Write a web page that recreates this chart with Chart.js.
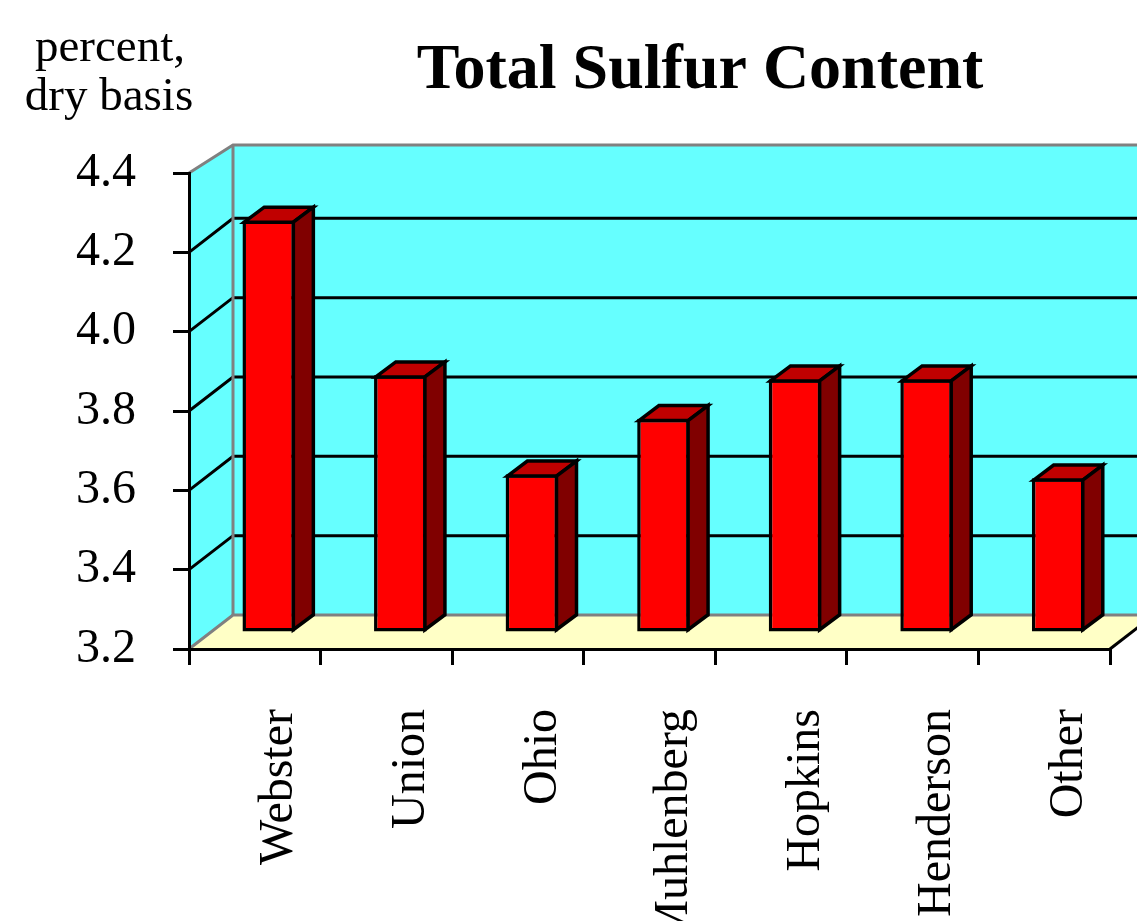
<!DOCTYPE html>
<html>
<head>
<meta charset="utf-8">
<title>Total Sulfur Content</title>
<script src="https://cdn.jsdelivr.net/npm/chart.js@4.4.1/dist/chart.umd.min.js"></script>
<style>
  html, body { margin: 0; padding: 0; background: #fff; }
  #wrap { width: 1137px; height: 921px; }
</style>
</head>
<body>
<div id="wrap"><canvas id="grafica"></canvas></div>
<script>
// datos
const condados = ['Webster', 'Union', 'Ohio', 'Muhlenberg', 'Hopkins', 'Henderson', 'Other'];
const azufre = [4.24, 3.85, 3.60, 3.74, 3.84, 3.84, 3.59];
const ejeMin = 3.2;
const ejeMax = 4.4;
const paso = 0.2;
const titulo = 'Total Sulfur Content';
const unidades = ['percent,', 'dry basis'];

const fuente = '"Liberation Serif", "Times New Roman", serif';

// profundidad de la pared del fondo, posicion de las barras y su grosor
const pared = { dx: 44, dy: -34, dyArriba: -28 };
const barras = { dx: 14, dy: -16 };
const cara = { dx: 20, dy: -15 };

function poligono(ctx, pts, relleno) {
  ctx.beginPath();
  ctx.moveTo(pts[0][0], pts[0][1]);
  for (let i = 1; i < pts.length; i++) ctx.lineTo(pts[i][0], pts[i][1]);
  ctx.closePath();
  if (relleno) {
    ctx.fillStyle = relleno;
    ctx.fill();
  }
}

function linea(ctx, pts, color) {
  ctx.beginPath();
  ctx.moveTo(pts[0][0], pts[0][1]);
  for (let i = 1; i < pts.length; i++) ctx.lineTo(pts[i][0], pts[i][1]);
  ctx.strokeStyle = color;
  ctx.lineWidth = 3;
  ctx.stroke();
}

// Paredes, piso y lineas de la cuadricula en 3D
const fondo3d = {
  id: 'fondo3d',
  beforeDraw(chart) {
    const { ctx, chartArea: a, scales: { y } } = chart;
    const W = chart.width;
    const dx = pared.dx, dy = pared.dy, dyA = pared.dyArriba;
    ctx.save();
    // pared del fondo
    poligono(ctx, [[a.left + dx, a.top + dyA], [W, a.top + dyA], [W, a.bottom + dy], [a.left + dx, a.bottom + dy]], '#66ffff');
    // pared lateral
    poligono(ctx, [[a.left, a.top], [a.left + dx, a.top + dyA], [a.left + dx, a.bottom + dy], [a.left, a.bottom]], '#66ffff');
    // piso
    poligono(ctx, [[a.left, a.bottom], [a.right, a.bottom], [a.right + dx, a.bottom + dy], [a.left + dx, a.bottom + dy]], '#ffffc6');

    ctx.lineCap = 'butt';
    y.ticks.forEach(t => {
      if (t.value <= ejeMin + 1e-6 || t.value >= ejeMax - 1e-6) return;
      const py = y.getPixelForValue(t.value);
      linea(ctx, [[a.left, py], [a.left + dx, py + dy], [W, py + dy]], '#000');
    });

    // bordes grises de las paredes
    linea(ctx, [[a.left, a.top], [a.left + dx, a.top + dyA], [W, a.top + dyA]], '#808080');
    linea(ctx, [[a.left + dx, a.top + dyA], [a.left + dx, a.bottom + dy]], '#808080');
    linea(ctx, [[a.left, a.bottom], [a.left + dx, a.bottom + dy], [W, a.bottom + dy]], '#808080');
    // borde derecho del piso
    linea(ctx, [[a.right, a.bottom], [a.right + dx, a.bottom + dy]], '#000');
    ctx.restore();
  },
  beforeDatasetsDraw(chart) {
    chart.ctx.save();
    chart.ctx.translate(barras.dx, barras.dy);
  },
  afterDatasetsDraw(chart) {
    const ctx = chart.ctx;
    const meta = chart.getDatasetMeta(0);
    ctx.lineJoin = 'miter';
    meta.data.forEach(b => {
      const p = b.getProps(['x', 'y', 'base', 'width'], true);
      const L = p.x - p.width / 2 + 1.75;
      const R = p.x + p.width / 2 - 1.75;
      const T = p.y + 1.75;
      const B = p.base - 1.75;
      const tapa = [[L, T], [L + cara.dx, T + cara.dy], [R + cara.dx, T + cara.dy], [R, T]];
      const lado = [[R, T], [R + cara.dx, T + cara.dy], [R + cara.dx, B + cara.dy], [R, B]];
      poligono(ctx, tapa, '#c00000');
      ctx.strokeStyle = '#000';
      ctx.lineWidth = 3.5;
      ctx.stroke();
      poligono(ctx, lado, '#800000');
      ctx.stroke();
    });
    ctx.restore();
  },
  afterDraw(chart) {
    const ctx = chart.ctx;
    ctx.save();
    ctx.fillStyle = '#000';
    ctx.textAlign = 'center';
    ctx.textBaseline = 'alphabetic';
    ctx.font = 'bold 64px ' + fuente;
    ctx.fillText(titulo, 700, 88);
    ctx.font = '47px ' + fuente;
    ctx.fillText(unidades[0], 110, 61);
    ctx.fillText(unidades[1], 109, 110);
    ctx.restore();
  }
};

const ctx = document.getElementById('grafica').getContext('2d');
new Chart(ctx, {
  type: 'bar',
  data: {
    labels: condados,
    datasets: [{
      data: azufre,
      base: ejeMin,
      backgroundColor: '#ff0000',
      borderColor: '#000000',
      borderWidth: 3.5,
      borderSkipped: false,
      barPercentage: 0.40,
      categoryPercentage: 1,
      clip: false
    }]
  },
  options: {
    responsive: true,
    maintainAspectRatio: false,
    animation: false,
    events: [],
    layout: { padding: { top: 173, right: 27, left: 0, bottom: 0 } },
    plugins: {
      legend: { display: false },
      title: { display: false },
      tooltip: { enabled: false }
    },
    scales: {
      x: {
        grid: { offset: true, drawOnChartArea: false, drawTicks: true, tickLength: 16, color: '#000', lineWidth: 3 },
        border: { color: '#000', width: 3 },
        ticks: {
          autoSkip: false,
          minRotation: 90,
          maxRotation: 90,
          labelOffset: 25,
          padding: 44,
          color: '#000',
          font: { family: fuente, size: 48 }
        },
        afterFit(s) {
          s.height = 272;
          s.paddingLeft = 0;
          s.paddingRight = 0;
        }
      },
      y: {
        min: ejeMin,
        max: ejeMax,
        ticks: {
          stepSize: paso,
          padding: 37,
          color: '#000',
          font: { family: fuente, size: 48 },
          callback: v => Number(v).toFixed(1)
        },
        grid: { drawOnChartArea: false, drawTicks: true, tickLength: 16, color: '#000', lineWidth: 3 },
        border: { color: '#000', width: 3 },
        afterFit(s) {
          s.width = 189;
          s.paddingTop = 0;
          s.paddingBottom = 0;
        }
      }
    }
  },
  plugins: [fondo3d]
});
</script>
</body>
</html>
